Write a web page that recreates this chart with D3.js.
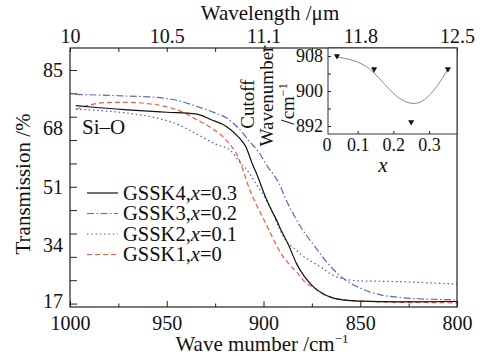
<!DOCTYPE html>
<html>
<head>
<meta charset="utf-8">
<script src="https://cdn.jsdelivr.net/npm/d3@7"></script>
<style>
  body { margin: 0; background: #fff; }
  svg { font-family: "Liberation Serif", "Times New Roman", serif; fill: #111; }
  .axis line { stroke: #222; stroke-width: 1; }
  .axis text { font-size: 20px; fill: #111; font-family: "Liberation Serif", serif; }
  .inset .axis text { font-size: 18px; }
</style>
</head>
<body>
<svg class="chart"></svg>
<script>
// SERIES DATA: WAVENUMBER (cm-1) AND TRANSMISSION (%)
var gssk4Wave  = [997, 985, 970, 950, 935, 927, 919, 913, 909, 906, 903, 900, 897, 893, 891, 887, 883, 879, 874, 869, 865, 858, 850, 830, 800];
var gssk4Trans = [74.6, 74.0, 73.4, 72.7, 72.2, 70.5, 68.5, 65.5, 62.5, 58.0, 54.0, 49.5, 45.5, 41.0, 38.5, 34.0, 28.7, 25.0, 21.8, 19.8, 18.8, 18.0, 17.7, 17.5, 17.6];

var gssk3Wave  = [997, 975, 955, 945, 935, 925, 919, 912, 907, 903, 898, 892, 889, 885, 881, 876, 870, 864, 858, 850, 840, 830, 820, 800];
var gssk3Trans = [77.9, 77.5, 77.0, 76.2, 74.5, 72.5, 71.0, 67.5, 64.0, 61.5, 57.0, 52.0, 48.0, 43.5, 39.5, 35.5, 31.0, 27.0, 24.0, 21.5, 19.6, 18.8, 18.4, 18.1];

var gssk2Wave  = [997, 985, 970, 955, 945, 935, 925, 917, 912, 908, 904, 900, 896, 892, 888, 884, 880, 876, 870, 865, 860, 855, 850, 840, 825, 810, 800];
var gssk2Trans = [73.6, 73.2, 72.4, 71.0, 69.3, 66.5, 63.5, 61.5, 58.0, 55.5, 52.0, 48.5, 44.5, 39.0, 35.0, 33.0, 31.0, 29.5, 27.5, 25.5, 24.3, 23.8, 23.6, 23.5, 23.3, 22.9, 22.7];

var gssk1Wave  = [997, 990, 982, 970, 960, 950, 940, 935, 928, 920, 913, 907, 903, 899, 896, 891, 886, 883, 879, 874, 870, 865, 857, 845, 830, 815, 800];
var gssk1Trans = [73.5, 74.8, 75.5, 75.6, 75.2, 74.3, 72.3, 70.7, 68.5, 65.0, 59.5, 50.0, 45.0, 40.5, 37.0, 31.6, 28.0, 26.3, 23.5, 21.6, 20.0, 18.8, 18.0, 17.6, 17.4, 17.3, 17.2];

var sampleNames = ["GSSK4", "GSSK3", "GSSK2", "GSSK1"];
var sampleX     = ["0.3", "0.2", "0.1", "0"];

// AXIS TICKS
var xMajorTicks = [1000, 950, 900, 850, 800];
var xMinorTicks = [975, 925, 875, 825];
var topLabels   = ["10", "10.5", "11.1", "11.8", "12.5"];
var yLabels     = [85, 68, 51, 34, 17];
var yTicks      = [85, 78.2, 71.4, 64.6, 57.8, 51, 44.2, 37.4, 30.6, 23.8, 17];

// INSET: CUTOFF WAVENUMBER VS x
var insetX      = [0.042, 0.146, 0.25, 0.353];
var insetCutoff = [908, 905, 892.9, 905];
var fitX        = [0.041, 0.097, 0.146, 0.2, 0.25, 0.293, 0.331, 0.352];
var fitCutoff   = [907.8, 906.7, 904.1, 899.5, 897.2, 898.4, 902.1, 904.9];
var insetXTicks = [0, 0.1, 0.2, 0.3];
var insetYTicks = [892, 896, 900, 904, 908];
var insetYLabels = [892, 900, 908];

var margin = {top: 48, right: 35, bottom: 49, left: 70},
    width = 492 - margin.left - margin.right,
    height = 356 - margin.top - margin.bottom;

var svg = d3.select(".chart")
    .attr("width", 492)
    .attr("height", 356);

var g = svg.append("g")
    .attr("transform", "translate(" + margin.left + "," + margin.top + ")");

var x = d3.scaleLinear().domain([1000, 800]).range([0, width]);
var y = d3.scaleLinear().domain([16, 91.4]).range([height, 0]);

// SERIES
var series = [
  {wave: gssk4Wave, trans: gssk4Trans, color: "#111", dash: null},
  {wave: gssk3Wave, trans: gssk3Trans, color: "#5a66c4", dash: "7,2.5,1.5,2.5"},
  {wave: gssk2Wave, trans: gssk2Trans, color: "#4c56cc", dash: "1.5,2.8"},
  {wave: gssk1Wave, trans: gssk1Trans, color: "#f05a3a", dash: "5,3"}
];

var line = d3.line()
    .x(function(d) { return x(d[0]); })
    .y(function(d) { return y(d[1]); })
    .curve(d3.curveMonotoneX);

g.selectAll(".series").data(series.slice().reverse())
  .enter().append("path")
    .attr("class", "series")
    .attr("fill", "none")
    .attr("stroke", function(d) { return d.color; })
    .attr("stroke-width", 1.2)
    .attr("stroke-dasharray", function(d) { return d.dash; })
    .attr("d", function(d) { return line(d.wave.map(function(w, i) { return [w, d.trans[i]]; })); });

// BOTTOM AXIS
g.append("g")
    .attr("class", "axis")
    .attr("transform", "translate(0," + height + ")")
    .call(d3.axisBottom(x).tickValues(xMajorTicks).tickSizeInner(-6).tickSizeOuter(0).tickPadding(9)
      .tickFormat(d3.format("d")))
    .call(function(a) { a.select(".domain").remove(); });

g.append("g")
    .attr("class", "axis")
    .attr("transform", "translate(0," + height + ")")
    .call(d3.axisBottom(x).tickValues(xMinorTicks).tickSizeInner(-3.5).tickSizeOuter(0).tickFormat(""))
    .call(function(a) { a.select(".domain").remove(); });

// TOP AXIS (WAVELENGTH)
g.append("g")
    .attr("class", "axis")
    .call(d3.axisTop(x).tickValues(xMajorTicks).tickSizeInner(-4).tickSizeOuter(0).tickPadding(5)
      .tickFormat(function(d, i) { return topLabels[i]; }))
    .call(function(a) { a.select(".domain").remove(); });

g.append("g")
    .attr("class", "axis")
    .call(d3.axisTop(x).tickValues(xMinorTicks).tickSizeInner(-4).tickSizeOuter(0).tickFormat(""))
    .call(function(a) { a.select(".domain").remove(); });

// LEFT AXIS
g.append("g")
    .attr("class", "axis")
    .call(d3.axisLeft(y).tickValues(yTicks).tickSizeInner(-7).tickSizeOuter(0).tickFormat(""))
    .call(function(a) { a.select(".domain").remove(); });

g.append("g")
    .attr("class", "axis")
    .call(d3.axisLeft(y).tickValues(yLabels).tickSize(0).tickPadding(7))
    .call(function(a) { a.select(".domain").remove(); })
    .selectAll("text")
    .attr("dy", function(d) { return d === 17 ? "0.2em" : "0.32em"; });

// FRAME
g.append("rect")
    .attr("width", width)
    .attr("height", height)
    .attr("fill", "none")
    .attr("stroke", "#222")
    .attr("stroke-width", 1.2);

// AXIS TITLES
svg.append("text")
    .attr("x", 270).attr("y", 20)
    .attr("text-anchor", "middle")
    .style("font-size", "21px")
    .text("Wavelength /\u03bcm");

var xt = svg.append("text")
    .attr("x", 262).attr("y", 351)
    .attr("text-anchor", "middle")
    .style("font-size", "21px");
xt.append("tspan").text("Wave mumber /cm");
xt.append("tspan").attr("dy", -8).style("font-size", "13px").text("\u22121");

svg.append("text")
    .attr("transform", "translate(30,184) rotate(-90)")
    .attr("text-anchor", "middle")
    .style("font-size", "21px")
    .text("Transmission /%");

svg.append("text")
    .attr("x", 82).attr("y", 134)
    .style("font-size", "21px")
    .text("Si\u2013O");

// LEGEND
var legend = svg.append("g").attr("class", "legend");
var rows = legend.selectAll(".row").data(series)
  .enter().append("g")
    .attr("class", "row")
    .attr("transform", function(d, i) { return "translate(87," + (193 + i * 20.5) + ")"; });

rows.append("line")
    .attr("x1", 0).attr("x2", 31)
    .attr("stroke", function(d) { return d.color; })
    .attr("stroke-width", 1.2)
    .attr("stroke-dasharray", function(d) { return d.dash; });

var lt = rows.append("text")
    .attr("x", 36).attr("dy", "0.34em")
    .style("font-size", "20.5px");
lt.append("tspan").text(function(d, i) { return sampleNames[i] + ","; });
lt.append("tspan").style("font-style", "italic").text("x");
lt.append("tspan").text(function(d, i) { return "=" + sampleX[i]; });

// INSET
var inset = svg.append("g").attr("class", "inset");
var ix = d3.scaleLinear().domain([0, 0.3]).range([322, 429]);
var iy = d3.scaleLinear().domain([892, 908]).range([126, 56]);
var iLeft = 328, iRight = 457, iTop = 48, iBottom = 134;

inset.append("rect")
    .attr("x", iLeft).attr("y", iTop)
    .attr("width", iRight - iLeft).attr("height", iBottom - iTop)
    .attr("fill", "#fff")
    .attr("stroke", "#333")
    .attr("stroke-width", 1);

inset.append("g")
    .attr("class", "axis")
    .attr("transform", "translate(0," + iBottom + ")")
    .call(d3.axisBottom(ix).tickValues(insetXTicks.slice(1)).tickSizeInner(-3).tickSizeOuter(0).tickFormat(""))
    .call(function(a) { a.select(".domain").remove(); });

inset.append("g")
    .attr("class", "axis")
    .attr("transform", "translate(0," + iBottom + ")")
    .call(d3.axisBottom(ix).tickValues(insetXTicks).tickSize(0).tickPadding(4).tickFormat(d3.format("")))
    .call(function(a) { a.select(".domain").remove(); })
    .selectAll("text")
    .attr("dx", function(d) { return d === 0 ? "0.25em" : 0; });

inset.append("g")
    .attr("class", "axis")
    .attr("transform", "translate(0,0)")
    .call(function(a) { a.attr("transform", "translate(" + iLeft + ",0)"); })
    .call(d3.axisLeft(iy).tickValues(insetYTicks).tickSizeInner(-3).tickSizeOuter(0).tickFormat(""))
    .call(function(a) { a.select(".domain").remove(); });

inset.append("g")
    .attr("class", "axis")
    .attr("transform", "translate(" + iLeft + ",0)")
    .call(d3.axisLeft(iy).tickValues(insetYLabels).tickSize(0).tickPadding(5))
    .call(function(a) { a.select(".domain").remove(); });

var fitLine = d3.line()
    .x(function(d) { return ix(d[0]); })
    .y(function(d) { return iy(d[1]); })
    .curve(d3.curveNatural);

inset.append("path")
    .attr("fill", "none")
    .attr("stroke", "#8a8a8a")
    .attr("stroke-width", 1)
    .attr("d", fitLine(fitX.map(function(v, i) { return [v, fitCutoff[i]]; })));

inset.selectAll(".pt").data(insetX)
  .enter().append("path")
    .attr("class", "pt")
    .attr("d", d3.symbol(d3.symbolTriangle).size(16))
    .attr("fill", "#111")
    .attr("transform", function(d, i) { return "translate(" + ix(d) + "," + iy(insetCutoff[i]) + ") rotate(180)"; });

// INSET TITLES
svg.append("text")
    .attr("transform", "translate(247,104) rotate(-90)")
    .attr("text-anchor", "middle").attr("dy", "0.35em")
    .style("font-size", "19px")
    .text("Cutoff");

svg.append("text")
    .attr("transform", "translate(266,96) rotate(-90)")
    .attr("text-anchor", "middle").attr("dy", "0.35em")
    .style("font-size", "19px")
    .text("Wavenumber");

var ct = svg.append("text")
    .attr("transform", "translate(287,104) rotate(-90)")
    .attr("text-anchor", "middle").attr("dy", "0.35em")
    .style("font-size", "19px");
ct.append("tspan").text("/cm");
ct.append("tspan").attr("dy", -7).style("font-size", "12px").text("\u22121");

svg.append("text")
    .attr("x", 383).attr("y", 172)
    .attr("text-anchor", "middle")
    .style("font-size", "21px")
    .style("font-style", "italic")
    .text("x");
</script>
</body>
</html>
